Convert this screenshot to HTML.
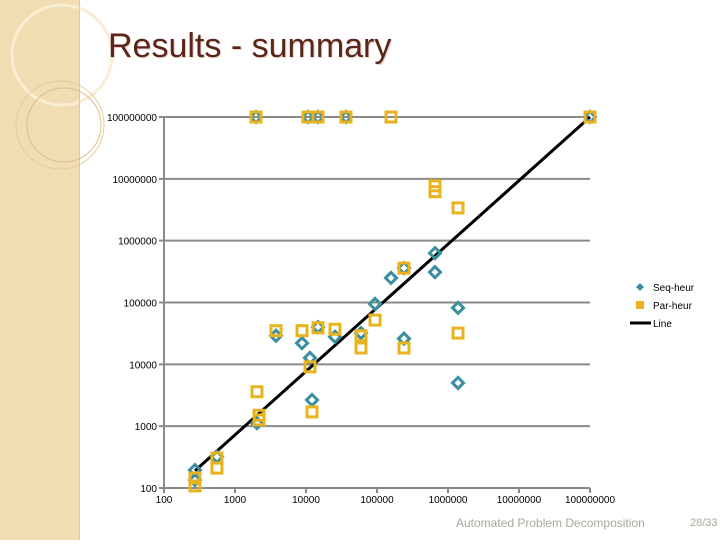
<!DOCTYPE html>
<html><head><meta charset="utf-8"><style>
body{margin:0;width:720px;height:540px;overflow:hidden;background:#fff;font-family:"Liberation Sans",sans-serif}
</style></head><body>
<svg width="720" height="540" xmlns="http://www.w3.org/2000/svg">
<g>
<rect x="0" y="0" width="79" height="540" fill="#f1ddb2"/>
<circle cx="62" cy="55" r="50" fill="none" stroke="#f9edd4" stroke-width="3"/>
<circle cx="60" cy="125" r="44" fill="none" stroke="#e5cc9a" stroke-width="1"/>
<circle cx="64" cy="125" r="37" fill="none" stroke="#dcc089" stroke-width="1"/>
<rect x="79" y="0" width="1" height="540" fill="#e0c898"/>
</g>
<text x="109" y="58" font-size="34" fill="#ead2c6">Results - summary</text>
<text x="108" y="57" font-size="34" fill="#5a261c">Results - summary</text>
<g id="chart"></g>
<text x="456" y="527" font-size="12" fill="#a8a898">Automated Problem Decomposition</text>
<text x="690" y="526" font-size="11" fill="#a8a898">28/33</text>
</svg>
<script>
const yTicks=[100,1000,10000,100000,1000000,10000000,100000000];
const xTicks=[100,1000,10000,100000,1000000,10000000,100000000];
const tickLabels=["100","1000","10000","100000","1000000","10000000","100000000"];
const seqX=[1977,10670,14760,36560,1e8,157500,656000,656000,93800,1384000,3780,8790,14760,25600,59500,240000,240000,11380,12160,1384000,2040,557,273,273];
const seqY=[1e8,1e8,1e8,1e8,1e8,2.5e5,6.3e5,3.1e5,9.5e4,8.2e4,2.9e4,2.2e4,4.0e4,2.8e4,3.2e4,2.6e4,3.6e5,1.27e4,2650,5000,1120,320,195,135];
const parX=[1977,10670,14760,36560,157500,1e8,656000,656000,1384000,240000,3780,8790,14760,25600,59500,59500,93800,240000,1384000,11380,12160,2040,2180,2180,557,557,273,273];
const parY=[1e8,1e8,1e8,1e8,1e8,1e8,7.7e6,6.2e6,3.39e6,3.6e5,3.5e4,3.5e4,3.9e4,3.7e4,2.9e4,1.84e4,5.2e4,1.84e4,3.2e4,9100,1700,3600,1500,1260,305,210,145,108];
const lineX=[273,1e8];
const lineY=[190,1e8];
const NS="http://www.w3.org/2000/svg";
const g=document.getElementById('chart');
const X=v=>164+71*(Math.log10(v)-2);
const Y=v=>488-61.83*(Math.log10(v)-2);
function mk(t,a){const e=document.createElementNS(NS,t);for(const k in a)e.setAttribute(k,a[k]);g.appendChild(e);return e;}
yTicks.forEach((v,i)=>{
 const l=mk('line',{x1:159,x2:590,y1:Y(v),y2:Y(v),stroke:'#8a8a8a','stroke-width':2});
 
 
 const t=mk('text',{x:157,y:Y(v)+4,'font-size':10,'text-anchor':'end',fill:'#000'});
 t.textContent=tickLabels[i];
 
 
});
const ax=mk('line',{x1:164,x2:164,y1:Y(1e8),y2:Y(100)+4,stroke:'#8a8a8a','stroke-width':2});


xTicks.forEach((v,i)=>{
 const k=mk('line',{x1:X(v),x2:X(v),y1:488,y2:493,stroke:'#8a8a8a','stroke-width':2});
 
 
 const t=mk('text',{x:X(v),y:503,'font-size':10,'text-anchor':'middle',fill:'#000'});
 t.textContent=tickLabels[i];
 
 
});
const ln=mk('line',{x1:X(lineX[0]),y1:Y(lineY[0]),x2:X(lineX[1]),y2:Y(lineY[1]),stroke:'#000','stroke-width':3});


seqX.forEach((v,i)=>{
 const cx=X(v),cy=Y(seqY[i]);
 const d=mk('polygon',{points:`${cx},${cy-5.5} ${cx+5.5},${cy} ${cx},${cy+5.5} ${cx-5.5},${cy}`,fill:'none',stroke:'#3a8f9f','stroke-width':3});
 
 
});
parX.forEach((v,i)=>{
 const cx=X(v),cy=Y(parY[i]);
 const s=mk('rect',{x:cx-5,y:cy-5,width:10,height:10,fill:'none',stroke:'#e8b31e','stroke-width':3});
 
 
});
const lg=[["Seq-heur",287],["Par-heur",305],["Line",323]];
const d=mk('polygon',{points:'640,283 644,287 640,291 636,287',fill:'#3a8f9f'});


const s=mk('rect',{x:636,y:301,width:8,height:8,fill:'#e8b31e'});


const ll=mk('line',{x1:630,x2:651,y1:323,y2:323,stroke:'#000','stroke-width':3});


lg.forEach(([n,y])=>{
 const t=mk('text',{x:653,y:y+4,'font-size':10,fill:'#000'});
 t.textContent=n;
 
 
});
</script>
</body></html>
